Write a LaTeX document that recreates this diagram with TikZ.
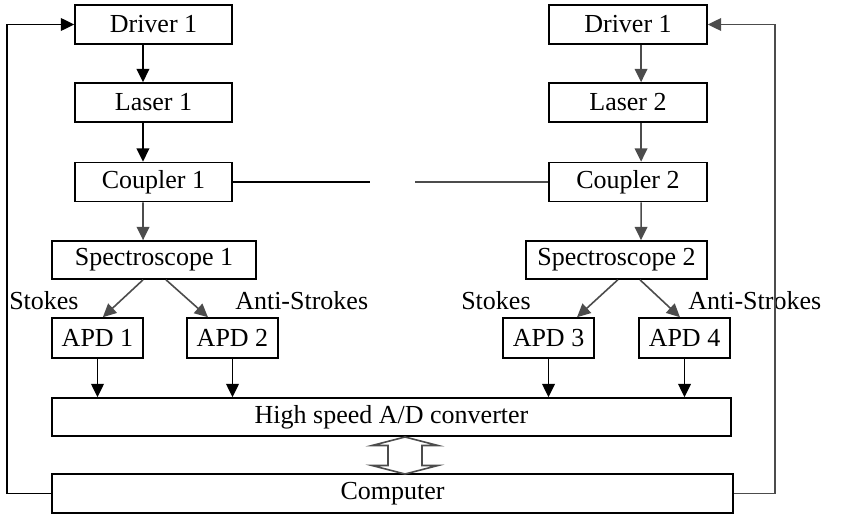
\documentclass[tikz,border=0pt]{standalone}
\usepackage{fontspec}
\setmainfont{Liberation Serif}
\usetikzlibrary{arrows.meta,calc}
\begin{document}
\begin{tikzpicture}[x=0.75pt,y=-0.75pt,
  box/.style={draw,line width=1.2pt,inner sep=0pt,font=\fontsize{19.5}{21}\selectfont},
  lbl/.style={inner sep=0pt,anchor=west,font=\fontsize{19.5}{21}\selectfont},
  arr/.style={line width=1.2pt,-{Triangle[length=10pt,width=9.5pt]}},
  ln/.style={line width=1.2pt},
  gr/.style={draw=black!70}]
\useasboundingbox (0,0) rectangle (841,517);
% boxes
\node[box,minimum width=157*0.75pt,minimum height=39*0.75pt] (d1) at (153.5,24.5) {Driver 1};
\node[box,minimum width=157*0.75pt,minimum height=39*0.75pt] (l1) at (153.5,102.5) {Laser 1};
\node[box,minimum width=157*0.75pt,minimum height=39*0.75pt] (c1) at (153.5,182) {Coupler 1};
\node[box,minimum width=158*0.75pt,minimum height=39*0.75pt] (d2) at (628,24.5) {Driver 1};
\node[box,minimum width=158*0.75pt,minimum height=39*0.75pt] (l2) at (628,102.5) {Laser 2};
\node[box,minimum width=158*0.75pt,minimum height=39*0.75pt] (c2) at (628,182) {Coupler 2};
\node[box,minimum width=204*0.75pt,minimum height=38*0.75pt] (s1) at (154,260) {Spectroscope 1};
\node[box,minimum width=181*0.75pt,minimum height=38*0.75pt] (s2) at (616.5,260) {Spectroscope 2};
\node[box,minimum width=91*0.75pt,minimum height=40*0.75pt] (a1) at (97.5,338) {APD 1};
\node[box,minimum width=91*0.75pt,minimum height=40*0.75pt] (a2) at (232.5,338) {APD 2};
\node[box,minimum width=91*0.75pt,minimum height=40*0.75pt] (a3) at (548.5,338) {APD 3};
\node[box,minimum width=91*0.75pt,minimum height=40*0.75pt] (a4) at (684.5,338) {APD 4};
\node[box,minimum width=679*0.75pt,minimum height=38*0.75pt] (ad) at (391.5,417) {High speed A/D converter};
\node[box,minimum width=681*0.75pt,minimum height=39*0.75pt] (pc) at (392.5,493.5) {Computer};
% labels
\node[lbl] (st1) at (9,301) {Stokes};
\node[lbl] (as1) at (235,301) {Anti-Strokes};
\node[lbl] (st2) at (461,301) {Stokes};
\node[lbl] (as2) at (688,301) {Anti-Strokes};
% left chain
\draw[arr] ([xshift=-7.9pt]d1.south) -- ([xshift=-7.9pt]l1.north);
\draw[arr] ([xshift=-7.9pt]l1.south) -- ([xshift=-7.9pt]c1.north);
\draw[arr,gr] ([xshift=-7.9pt]c1.south) -- ([xshift=-8.2pt]s1.north);
% right chain
\draw[arr,gr] ([xshift=9.8pt]d2.south) -- ([xshift=9.8pt]l2.north);
\draw[arr,gr] ([xshift=9.8pt]l2.south) -- ([xshift=9.8pt]c2.north);
\draw[arr,gr] ([xshift=9.8pt]c2.south) -- ([xshift=18.4pt]s2.north);
% coupler lines
\coordinate (e1) at (370,182);
\coordinate (e2) at (415,182);
\draw[ln] (c1.east) -- (e1);
\draw[ln,gr] (e2) -- (c2.west);
% spectroscope splits
\draw[arr,gr] ([xshift=-8.2pt]s1.south) -- ([xshift=4pt]a1.north);
\draw[arr,gr] ([xshift=9pt]s1.south) -- ([xshift=-18.4pt]a2.north);
\draw[arr,gr] ([xshift=1pt]s2.south) -- ([xshift=21.4pt]a3.north);
\draw[arr,gr] ([xshift=17.6pt]s2.south) -- ([xshift=-3.4pt]a4.north);
% APD to A/D
\draw[arr] (a1.south) -- (a1.south |- ad.north);
\draw[arr] (a2.south) -- (a2.south |- ad.north);
\draw[arr] (a3.south) -- (a3.south |- ad.north);
\draw[arr] (a4.south) -- (a4.south |- ad.north);
% feedback loops
\coordinate (fl) at (7,0);
\coordinate (fr) at (775,0);
\draw[arr] (pc.west) -- (pc.west -| fl) -- (d1.west -| fl) -- (d1.west);
\draw[arr,gr] (pc.east) -- (pc.east -| fr) -- (d2.east -| fr) -- (d2.east);
% double arrow between A/D and computer
\coordinate (da) at (405,455.5);
\draw[line width=1.2pt,gr] ($(da)+(0,-18.5)$) -- ($(da)+(33,-10)$) -- ($(da)+(17,-10)$) -- ($(da)+(17,10)$) -- ($(da)+(33,10)$) -- ($(da)+(0,18.5)$) -- ($(da)+(-33,10)$) -- ($(da)+(-17,10)$) -- ($(da)+(-17,-10)$) -- ($(da)+(-33,-10)$) -- cycle;
\end{tikzpicture}
\end{document}
